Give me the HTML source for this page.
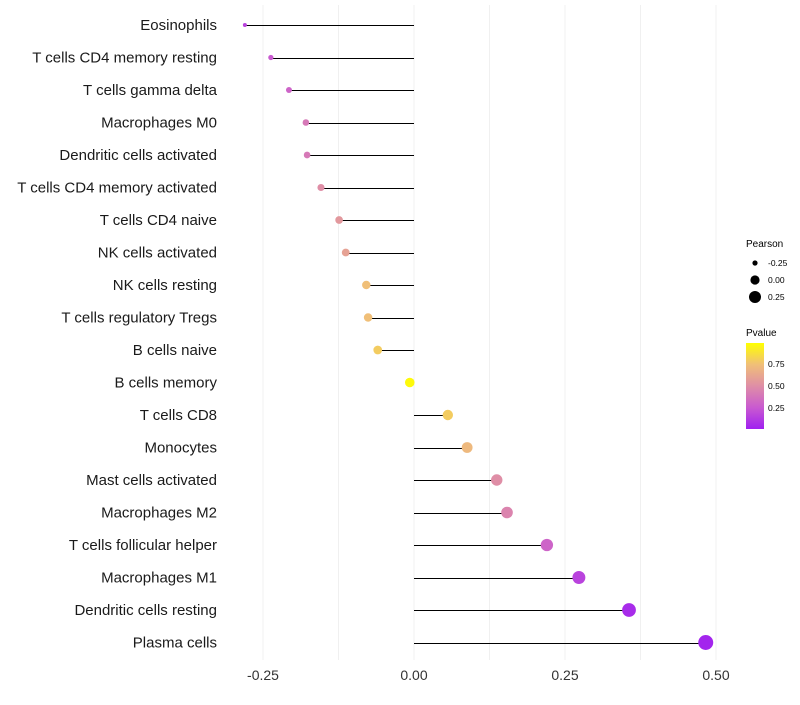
<!DOCTYPE html>
<html><head><meta charset="utf-8"><style>
body{margin:0;background:#fff;font-family:"Liberation Sans",sans-serif}
</style></head><body>
<svg id="chart" width="800" height="700" xmlns="http://www.w3.org/2000/svg">
<defs><linearGradient id="pg" x1="0" y1="1" x2="0" y2="0">
<stop offset="0" stop-color="#a020f0"/><stop offset="0.25" stop-color="#c95ad0"/><stop offset="0.5" stop-color="#df8ea6"/><stop offset="0.75" stop-color="#f0bf78"/><stop offset="1" stop-color="#ffff00"/></linearGradient></defs>
<g id="grid"></g><g id="marks"></g><g id="labels"></g>
<g font-size="10" fill="#000">
<text x="746" y="247">Pearson</text>
<circle cx="755" cy="263" r="2.6"/><text x="768" y="266" font-size="8.5">-0.25</text>
<circle cx="755" cy="280" r="4.6"/><text x="768" y="283" font-size="8.5">0.00</text>
<circle cx="755" cy="297" r="6"/><text x="768" y="300" font-size="8.5">0.25</text>
</g>
<g font-size="10">
<text x="746" y="336">Pvalue</text>
<rect x="746" y="343" width="18" height="86" fill="url(#pg)"/>
<text x="768" y="367" font-size="8.5">0.75</text>
<text x="768" y="389" font-size="8.5">0.50</text>
<text x="768" y="411" font-size="8.5">0.25</text>
</g>
</svg>
<script>
const cells=["Eosinophils","T cells CD4 memory resting","T cells gamma delta","Macrophages M0","Dendritic cells activated","T cells CD4 memory activated","T cells CD4 naive","NK cells activated","NK cells resting","T cells regulatory  Tregs ","B cells naive","B cells memory","T cells CD8","Monocytes","Mast cells activated","Macrophages M2","T cells follicular helper","Macrophages M1","Dendritic cells resting","Plasma cells"];
const pearson=[-0.280,-0.237,-0.207,-0.179,-0.177,-0.154,-0.124,-0.113,-0.079,-0.076,-0.060,-0.007,0.056,0.088,0.137,0.154,0.220,0.273,0.356,0.483];
const pvalue=[0.15,0.25,0.3,0.4,0.4,0.5,0.55,0.6,0.75,0.75,0.8,0.98,0.8,0.72,0.5,0.45,0.3,0.15,0.05,0.02];
const ticks=[-0.25,0,0.25,0.5];
const tickLabels=["-0.25","0.00","0.25","0.50"];
const NS="http://www.w3.org/2000/svg";
const xs=v=>414+v*604;
const ys=i=>25+i*32.5;
const stops=[[0,[160,32,240]],[0.25,[201,90,208]],[0.5,[223,142,166]],[0.75,[240,191,120]],[1,[255,255,0]]];
function col(p){for(let k=1;k<stops.length;k++){if(p<=stops[k][0]){const a=stops[k-1],b=stops[k],t=(p-a[0])/(b[0]-a[0]);return "rgb("+a[1].map((c,j)=>Math.round(c+(b[1][j]-c)*t)).join(",")+")";}}return "rgb(255,255,0)";}
const rs=v=>Math.sqrt(4+(v+0.28)/0.76*52);
function mk(t,a,p){const e=document.createElementNS(NS,t);for(const k in a)e.setAttribute(k,a[k]);p.appendChild(e);return e;}
const grid=document.getElementById("grid"),marks=document.getElementById("marks"),labels=document.getElementById("labels");
for(let g=-0.25;g<=0.5001;g+=0.125){const l=mk("line",{x1:xs(g),x2:xs(g),y1:5,y2:660,stroke:"#f0f0f0","stroke-width":1},grid);

}
ticks.forEach((t,i)=>{const e=mk("text",{x:xs(t),y:680,"text-anchor":"middle","font-size":14,fill:"#333"},labels);e.textContent=tickLabels[i];

});
cells.forEach((c,i)=>{const y=ys(i);
const t=mk("text",{x:217,y:y+5,"text-anchor":"end","font-size":15,fill:"#1a1a1a","xml:space":"preserve"},labels);t.textContent=c;


const l=mk("line",{x1:xs(0),x2:xs(pearson[i]),y1:Math.round(y)+0.5,y2:Math.round(y)+0.5,stroke:"#000","stroke-width":1},marks);


const p=mk("circle",{cx:xs(pearson[i]),cy:y,r:rs(pearson[i]),fill:col(pvalue[i])},marks);


});
</script>
</body></html>
